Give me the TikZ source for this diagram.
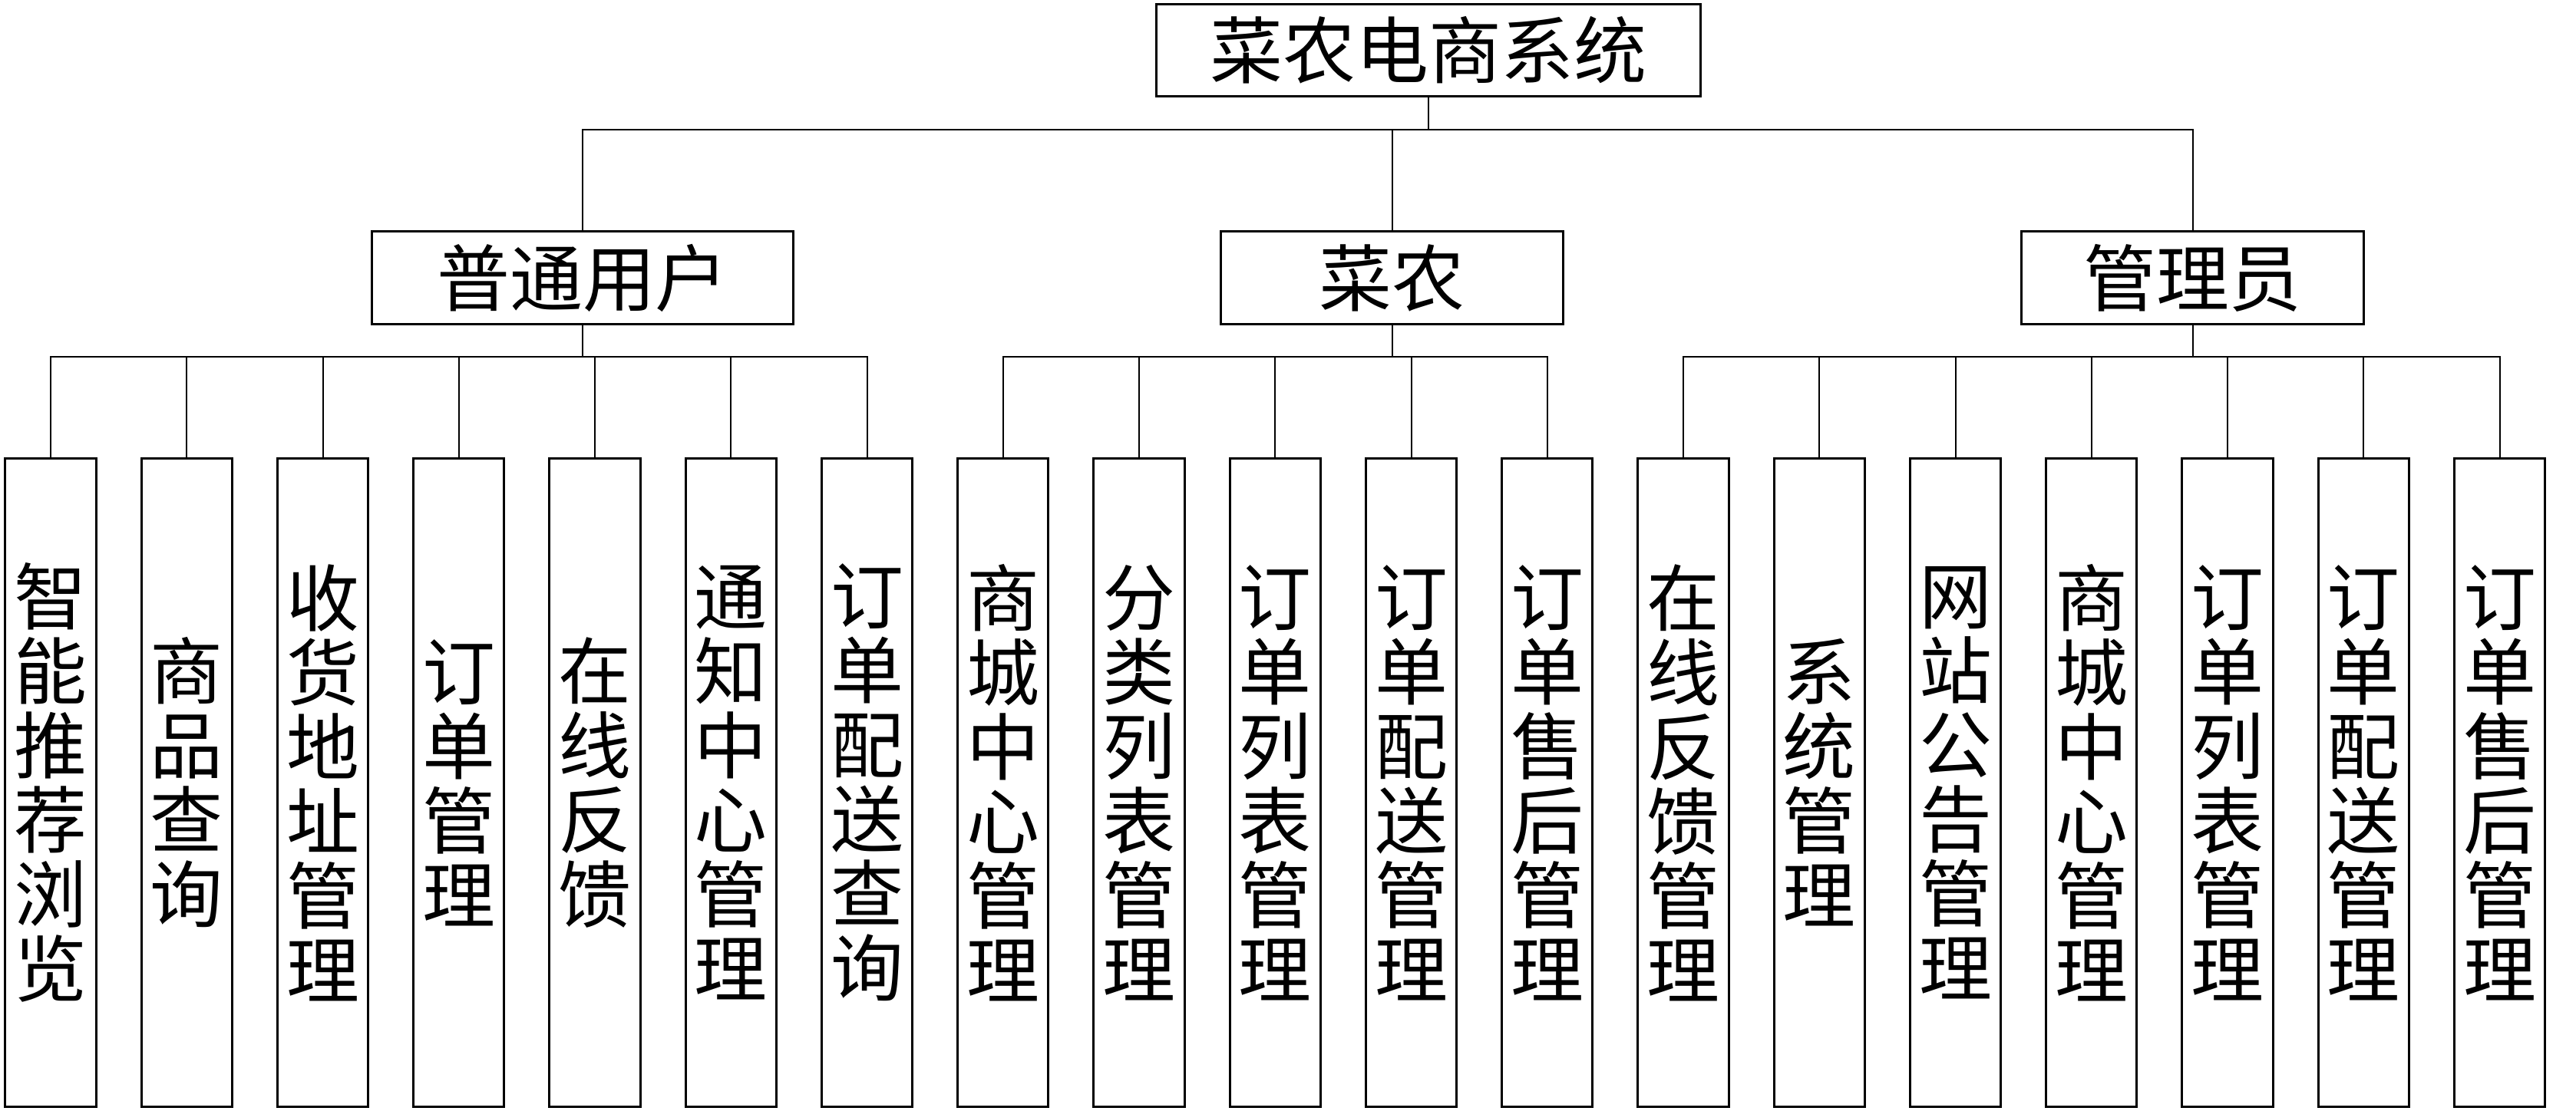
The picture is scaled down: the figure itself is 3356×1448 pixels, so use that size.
\documentclass[tikz,border=0pt]{standalone}
\usepackage{fontspec}
\newfontfamily\cjk{Noto Sans CJK SC}
\begin{document}
\begin{tikzpicture}[x=0.01cm,y=-0.01cm,
  box/.style={draw,line width=0.85pt,inner sep=0pt,font=\cjk\fontsize{27pt}{27.6pt}\selectfont,align=center},
  leaf/.style={box,minimum width=1.18cm,minimum height=8.44cm},
  conn/.style={line width=0.57pt}]
\useasboundingbox (0,0) rectangle (3356,1448);
\node[box,minimum width=7.08cm,minimum height=1.19cm] (top) at (1861,65.5) {菜农电商系统};
\node[box,minimum width=5.48cm,minimum height=1.20cm] (u) at (759,362) {普通用户};
\node[box,minimum width=4.45cm,minimum height=1.20cm] (f) at (1813.5,362) {菜农};
\node[box,minimum width=4.45cm,minimum height=1.20cm] (a) at (2856.5,362) {管理员};
\foreach \i/\t in {
 0/{智\\能\\推\\荐\\浏\\览},
 1/{商\\品\\查\\询},
 2/{收\\货\\地\\址\\管\\理},
 3/{订\\单\\管\\理},
 4/{在\\线\\反\\馈},
 5/{通\\知\\中\\心\\管\\理},
 6/{订\\单\\配\\送\\查\\询},
 7/{商\\城\\中\\心\\管\\理},
 8/{分\\类\\列\\表\\管\\理},
 9/{订\\单\\列\\表\\管\\理},
 10/{订\\单\\配\\送\\管\\理},
 11/{订\\单\\售\\后\\管\\理},
 12/{在\\线\\反\\馈\\管\\理},
 13/{系\\统\\管\\理},
 14/{网\\站\\公\\告\\管\\理},
 15/{商\\城\\中\\心\\管\\理},
 16/{订\\单\\列\\表\\管\\理},
 17/{订\\单\\配\\送\\管\\理},
 18/{订\\单\\售\\后\\管\\理}}{
  \node[leaf] (l\i) at ({66+177.25*\i},1020) {\t};
}
\coordinate (j0) at (1861,169);
\coordinate (bus) at (0,465);
\draw[conn] (top.south) -- (j0);
\draw[conn] (u.north) |- (j0) -| (a.north);
\draw[conn] (f.north) -- (f.north |- j0);
\coordinate (uj) at (u.south |- bus);
\coordinate (fj) at (f.south |- bus);
\coordinate (aj) at (a.south |- bus);
\draw[conn] (u.south) -- (uj);
\draw[conn] (f.south) -- (fj);
\draw[conn] (a.south) -- (aj);
\foreach \i in {0,...,6} {\draw[conn] (uj) -| (l\i.north);}
\foreach \i in {7,...,11} {\draw[conn] (fj) -| (l\i.north);}
\foreach \i in {12,...,18} {\draw[conn] (aj) -| (l\i.north);}
\end{tikzpicture}
\end{document}
